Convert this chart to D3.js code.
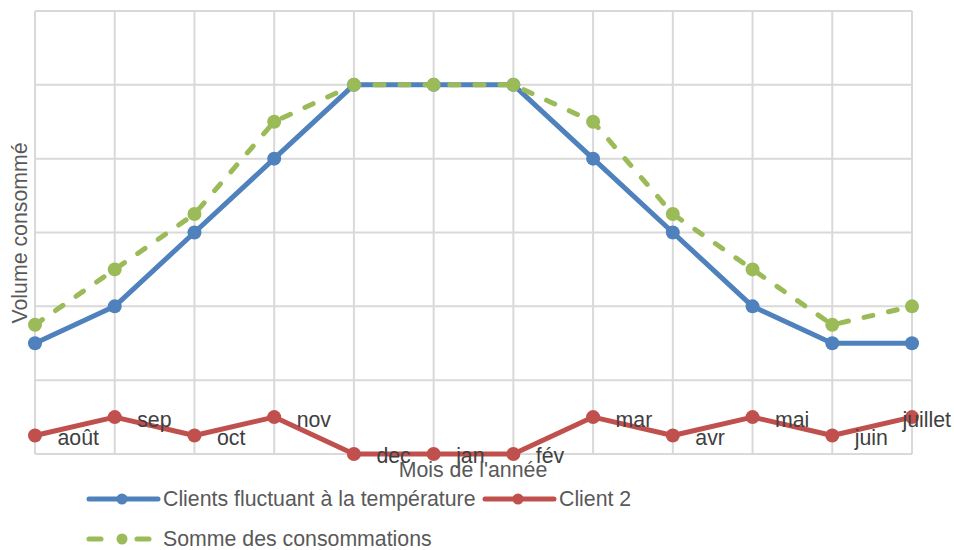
<!DOCTYPE html>
<html><head><meta charset="utf-8">
<script src="https://cdn.jsdelivr.net/npm/d3@7"></script>
<style>body{margin:0;background:#fff}svg{display:block}text{font-family:"Liberation Sans",Arial,sans-serif}</style>
</head><body><div id="chart"></div>
<script>
const months = ["août","sep","oct","nov","dec","jan","fév","mar","avr","mai","juin","juillet"];
const clientsFluctuant = [1.5,2,3,4,5,5,5,4,3,2,1.5,1.5];
const client2 = [0.25,0.5,0.25,0.5,0,0,0,0.5,0.25,0.5,0.25,0.5];
const somme = [1.75,2.5,3.25,4.5,5,5,5,4.5,3.25,2.5,1.75,2];
const yTicks = [0,1,2,3,4,5,6];
const seriesNames = ["Clients fluctuant à la température","Client 2","Somme des consommations"];
const colors = ["#4f81bd","#c0504d","#9bbb59"];

const W=954,H=550,FS=21.3;
const svg=d3.select("#chart").append("svg").attr("width",W).attr("height",H);
const x=d3.scalePoint().domain(months).range([35,912]);
const y=d3.scaleLinear().domain([0,6]).range([454,11]);

// gridlines
svg.append("g").selectAll("line").data(yTicks).join("line")
  .attr("x1",35).attr("x2",912).attr("y1",d=>y(d)).attr("y2",d=>y(d))
  .attr("stroke","#d9d9d9").attr("stroke-width",2);
svg.append("g").selectAll("line").data(months).join("line")
  .attr("x1",d=>x(d)).attr("x2",d=>x(d)).attr("y1",y(0)).attr("y2",y(6))
  .attr("stroke","#d9d9d9").attr("stroke-width",2);

const line=d3.line().x((d,i)=>x(months[i])).y(d=>y(d));
const data=[clientsFluctuant,client2,somme];
const dashes=[null,null,"9,16"];
[0,1,2].forEach(k=>{
  const g=svg.append("g");
  g.append("path").datum(data[k]).attr("d",line).attr("fill","none")
    .attr("stroke",colors[k]).attr("stroke-width",5).attr("stroke-linecap","round").attr("stroke-linejoin","round")
    .attr("stroke-dasharray",dashes[k]);
  g.selectAll("circle").data(data[k]).join("circle")
    .attr("cx",(d,i)=>x(months[i])).attr("cy",d=>y(d)).attr("r",7).attr("fill",colors[k]);
});

// data labels (month names) on Client 2
svg.append("g").selectAll("text").data(client2).join("text")
  .attr("font-size",FS).attr("fill","#404040").attr("dy","0.35em")
  .attr("y",d=>y(d)+2).text((d,i)=>months[i])
  .each(function(d,i){
    const t=d3.select(this);
    const w=this.getComputedTextLength();
    let px=x(months[i])+22.5;
    if(px+w>951) px=951-w;
    t.attr("x",px);
  });

// axis titles
svg.append("text").attr("x",473).attr("y",470).attr("dy","0.35em").attr("text-anchor","middle")
  .attr("font-size",FS).attr("fill","#595959").text("Mois de l'année");
svg.append("text").attr("transform","translate(20,233) rotate(-90)").attr("dy","0.35em").attr("text-anchor","middle")
  .attr("font-size",FS).attr("fill","#595959").text("Volume consommé");

// legend
const leg=[{k:0,x:89,y:499},{k:1,x:485,y:499},{k:2,x:89,y:539}];
leg.forEach(L=>{
  const g=svg.append("g");
  g.append("line").attr("x1",L.x).attr("x2",L.x+69).attr("y1",L.y).attr("y2",L.y)
    .attr("stroke",colors[L.k]).attr("stroke-width",5).attr("stroke-linecap","round")
    .attr("stroke-dasharray",L.k===2?"12,36":null);
  g.append("circle").attr("cx",L.x+33).attr("cy",L.y).attr("r",5.5).attr("fill",colors[L.k]);
  g.append("text").attr("x",L.x+74).attr("y",L.y).attr("dy","0.35em").attr("font-size",FS)
    .attr("fill","#595959").text(seriesNames[L.k]);
});
</script></body></html>
